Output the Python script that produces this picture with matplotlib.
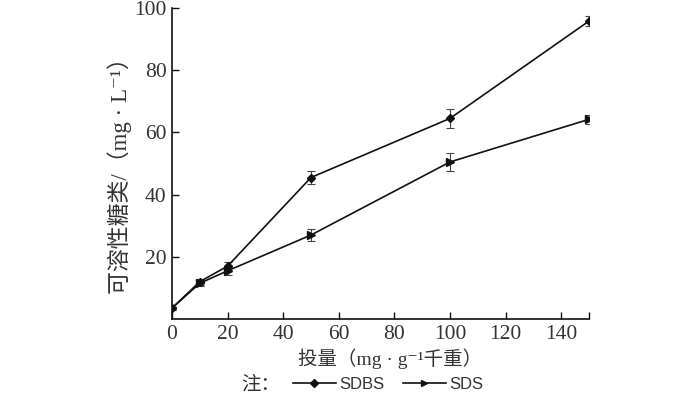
import matplotlib
matplotlib.use("Agg")
import matplotlib.pyplot as plt
from matplotlib.lines import Line2D

# ---- data ----
dose = [0, 10, 20, 50, 100, 150]
sdbs = [3.5, 12.0, 17.0, 45.5, 64.5, 95.8]
sdbs_err = [0.5, 1.0, 1.2, 2.0, 3.0, 1.5]
sds = [3.5, 11.5, 15.5, 27.0, 50.5, 64.2]
sds_err = [0.5, 1.0, 1.2, 2.0, 3.0, 1.5]
x_ticks = [0, 20, 40, 60, 80, 100, 120, 140]
y_ticks = [20, 40, 60, 80, 100]

# Latin in a Times-like face, CJK glyphs fall through to Noto,
# superscript minus to DejaVu Serif
serif = ["Liberation Serif", "Noto Sans CJK SC", "DejaVu Serif"]
ink = "#111111"
label_color = "#333333"

fig = plt.figure(figsize=(7.0, 3.93), dpi=100)
ax = fig.add_axes([0.2457, 0.1883, 0.5957, 0.7913])

ax.errorbar(dose, sdbs, yerr=sdbs_err, color=ink, lw=1.2, marker="D", ms=4.5,
            capsize=3, elinewidth=0.8, capthick=0.8, ecolor="#444444")
ax.errorbar(dose, sds, yerr=sds_err, color=ink, lw=1.2, marker=">", ms=5.5,
            capsize=3, elinewidth=0.8, capthick=0.8, ecolor="#444444")

ax.set_xlim(0, 150)
ax.set_ylim(0, 100)
ax.set_xticks(x_ticks)
ax.set_xticks([150], minor=True)
ax.set_yticks(y_ticks)
ax.tick_params(direction="in", length=5, width=1, colors=ink, labelsize=15.5, pad=4)
ax.tick_params(which="minor", direction="in", length=5, width=1)
for lbl in ax.get_xticklabels() + ax.get_yticklabels():
    lbl.set_family(serif)
    lbl.set_color(label_color)
for side in ("top", "right"):
    ax.spines[side].set_visible(False)
for side in ("left", "bottom"):
    ax.spines[side].set_linewidth(1.2)
    ax.spines[side].set_color(ink)

fig.text(0.171, 0.568, "可溶性糖类/（mg · L⁻¹）", family=serif, fontsize=16.5,
         color=label_color, rotation=90, ha="center", va="center")
fig.text(0.557, 0.088, "投量（mg · g⁻¹千重）", family=serif, fontsize=14,
         color=label_color, ha="center", va="center")

# legend line at the bottom: "注：" + two handles
fig.text(0.344, 0.022, "注：", family=serif, fontsize=14, color=label_color,
         ha="left", va="center")
handles = [
    Line2D([], [], color=ink, lw=1.2, marker="D", ms=4),
    Line2D([], [], color=ink, lw=1.2, marker=">", ms=5),
]
leg = fig.legend(handles, ["SDBS", "SDS"], loc="center left",
                 bbox_to_anchor=(0.418, 0.022), ncol=2, frameon=False,
                 borderpad=0, borderaxespad=0,
                 handlelength=2.6, handletextpad=0.2, columnspacing=1.1,
                 prop={"family": "Liberation Sans", "size": 12})
for t in leg.get_texts():
    t.set_color(label_color)

fig.savefig("out.png", dpi=100)
